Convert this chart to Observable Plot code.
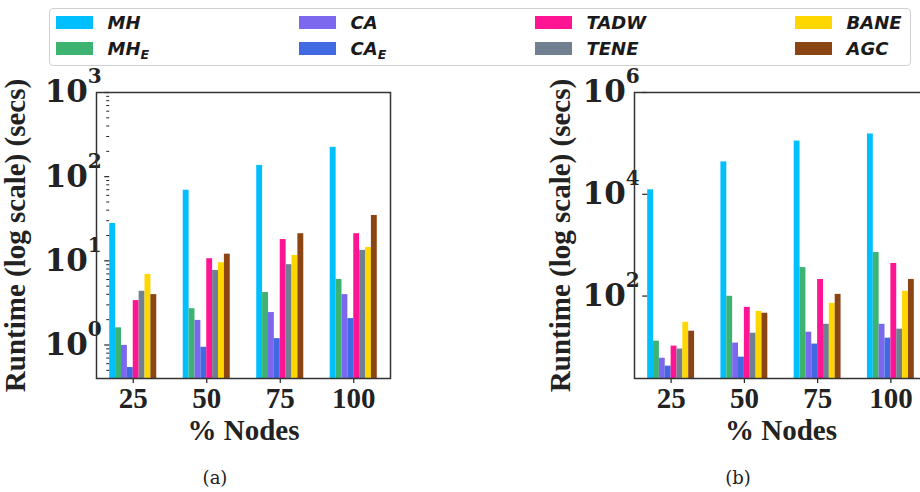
<!DOCTYPE html>
<html><head><meta charset="utf-8">
<script src="https://cdn.jsdelivr.net/npm/d3@7"></script>
<script src="https://cdn.jsdelivr.net/npm/@observablehq/plot@0.6"></script>
<style>
html,body{margin:0;padding:0;background:#fff;}
#root{position:relative;width:920px;height:492px;overflow:hidden;background:#fff;}
.legend{position:absolute;left:49px;top:8px;width:862px;height:58px;border:1.5px solid #d0d0d0;border-radius:4px;box-sizing:border-box;display:grid;grid-template-columns:243px 236px 260px auto;grid-template-rows:26px 26px;grid-auto-flow:column;padding:0 0 0 5.5px;font-family:"DejaVu Sans";font-weight:bold;font-style:italic;font-size:18px;color:#1a1a1a;}
.item{display:flex;align-items:center;white-space:nowrap;}
.sw{width:37px;height:13px;margin-right:15px;flex:none;}
.item sub{font-size:0.7em;vertical-align:-0.35em;line-height:0;}
.panel{position:absolute;top:60px;height:400px;}
.panel svg{position:absolute;left:0;top:0;}
.cap{position:absolute;top:467px;font-family:"DejaVu Serif";font-size:18px;transform:translateX(-50%);color:#222;}
</style></head>
<body><div id="root">
<div class="legend" id="legend"></div>
<div class="panel" id="pa" style="left:0px;width:430px"></div>
<div class="panel" id="pb" style="left:480px;width:460px"></div>
<div class="cap" style="left:215px">(a)</div>
<div class="cap" style="left:738px">(b)</div>
</div>
<script>
// categories
const groups = ["25", "50", "75", "100"];
const series = ["MH", "MH_E", "CA", "CA_E", "TADW", "TENE", "BANE", "AGC"];
const seriesLabels = ["MH", "MH<sub>E</sub>", "CA", "CA<sub>E</sub>", "TADW", "TENE", "BANE", "AGC"];
const colors = ["#00BFFF", "#3CB371", "#7B68EE", "#4169E1", "#FF1493", "#708090", "#FFD700", "#8B4513"];

// panel (a) runtimes (secs), one value per group
const a_MH   = [27.8, 69, 136, 223];
const a_MH_E = [1.6, 2.7, 4.2, 6.0];
const a_CA   = [0.99, 1.96, 2.43, 3.97];
const a_CA_E = [0.54, 0.94, 1.19, 2.06];
const a_TADW = [3.37, 10.6, 17.9, 21];
const a_TENE = [4.35, 7.7, 9.0, 13.3];
const a_BANE = [6.9, 9.5, 11.6, 14.4];
const a_AGC  = [3.97, 12, 21, 34.6];

// panel (b) runtimes (secs)
const b_MH   = [12250, 43300, 111000, 153000];
const b_MH_E = [13, 99, 363, 716];
const b_CA   = [6.0, 11.9, 19.5, 27.9];
const b_CA_E = [4.2, 6.3, 11.4, 14.9];
const b_TADW = [10.4, 60, 212, 437];
const b_TENE = [9.1, 18.6, 27.9, 22.4];
const b_BANE = [30.5, 50, 72, 124];
const b_AGC  = [20.4, 46, 108, 212];

// axes
const yDomainA = [0.4, 1000];
const yTicksA = [1, 10, 100, 1000];
const yTickLabelsA = ["10^0", "10^1", "10^2", "10^3"];
const yMinorA = [0.5, 0.6, 0.7, 0.8, 0.9, 2, 3, 4, 5, 6, 7, 8, 9, 20, 30, 40, 50, 60, 70, 80, 90, 200, 300, 400, 500, 600, 700, 800, 900];
const yDomainB = [2.4, 1e6];
const yTicksB = [1e2, 1e4, 1e6];
const yTickLabelsB = ["10^2", "10^4", "10^6"];
const yMinorB = [];
const yLabel = "Runtime (log scale) (secs)";
const xLabel = "% Nodes";

// legend
const leg = document.getElementById("legend");
series.forEach((s, i) => {
  const d = document.createElement("div");
  d.className = "item";
  d.innerHTML = `<span class="sw" style="background:${colors[i]}"></span><span>${seriesLabels[i]}</span>`;
  leg.appendChild(d);
});

const FONT = 29;
const TICKFONT = 31;

function superscript(svg) {
  const g = d3.select(svg).selectAll('g[aria-label="y-axis tick label"]');
  g.attr("font-family", "DejaVu Serif").attr("font-size", TICKFONT);
  g.selectAll("text").each(function () {
    const t = this.textContent; const k = t.indexOf("^"); if (k < 0) return;
    const el = d3.select(this); el.text(null);
    el.append("tspan").text(t.slice(0, k));
    el.append("tspan").attr("dy", -Math.round(TICKFONT * 0.6) + "px").attr("font-size", Math.round(TICKFONT * 0.64) + "px").text(t.slice(k + 1));
  });
}

const baseStyle = {fontFamily: "Liberation Serif", fontWeight: "bold", fontSize: FONT + "px", color: "#222", overflow: "visible", background: "transparent"};

function panel(el, values, yDomain, ticks, tickLabels, minor, width, marginLeft, marginRight, yLabelOffset) {
  const rows = [];
  series.forEach((s, i) => groups.forEach((g, j) => rows.push({group: g, series: s, value: values[i][j]})));
  const dims = {width, height: 400, marginLeft, marginRight, marginTop: 32, marginBottom: 82};
  const marks = [
    Plot.barY(rows, {fx: "group", x: "series", y1: () => yDomain[0], y2: "value", fill: "series"}),
    Plot.axisY(ticks, {tickSize: 5, tickPadding: 3, tickFormat: d => tickLabels[ticks.indexOf(d)],
      label: yLabel, labelAnchor: "center", labelOffset: yLabelOffset, labelArrow: "none", strokeWidth: 1.2})
  ];
  if (minor.length) marks.push(Plot.axisY(minor, {tickSize: 3, tickFormat: () => "", label: null, strokeWidth: 1}));
  marks.push(Plot.axisFx({anchor: "bottom", tickSize: 5, tickPadding: 4, label: xLabel, labelAnchor: "center", labelOffset: 61, labelArrow: "none", strokeWidth: 1.2}));
  const svg = Plot.plot({
    ...dims,
    style: baseStyle,
    fx: {domain: groups, paddingInner: 0.36, paddingOuter: 0.18, round: false},
    x: {domain: series, padding: 0, axis: null, round: false},
    y: {type: "log", domain: yDomain},
    color: {domain: series, range: colors},
    marks
  });
  superscript(svg);
  el.appendChild(svg);
  // frame around the plotting area (same dimensions, drawn on top)
  const frame = Plot.plot({
    ...dims,
    style: baseStyle,
    x: {domain: [0, 1], axis: null},
    y: {type: "log", domain: yDomain, axis: null},
    marks: [Plot.frame({stroke: "#333", strokeWidth: 1.5})]
  });
  el.appendChild(frame);
}

panel(document.getElementById("pa"),
  [a_MH, a_MH_E, a_CA, a_CA_E, a_TADW, a_TENE, a_BANE, a_AGC], yDomainA, yTicksA, yTickLabelsA, yMinorA, 430, 96, 40, 105);
panel(document.getElementById("pb"),
  [b_MH, b_MH_E, b_CA, b_CA_E, b_TADW, b_TENE, b_BANE, b_AGC], yDomainB, yTicksB, yTickLabelsB, yMinorB, 460, 154, 13, 98);
</script>
</body></html>
